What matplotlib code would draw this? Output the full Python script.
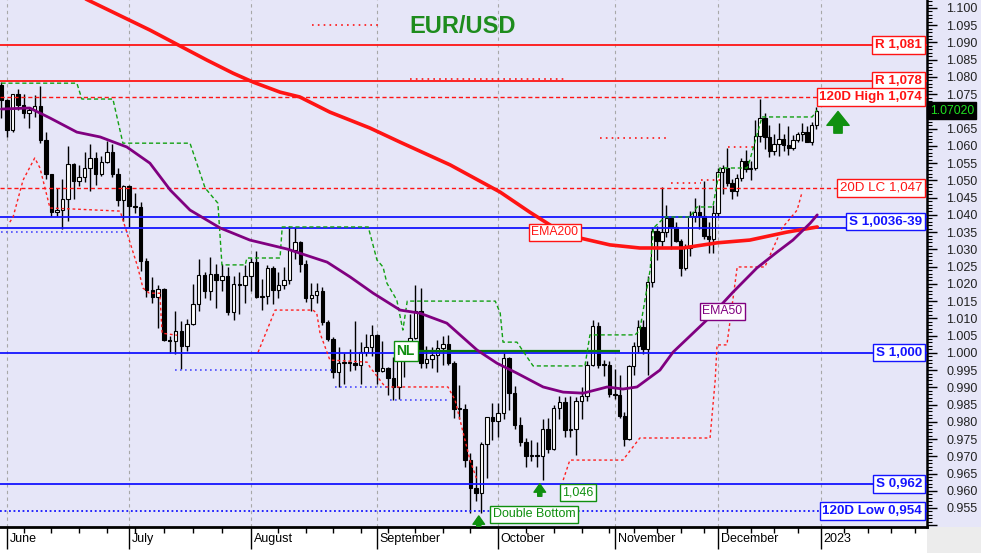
#!/usr/bin/env python3
"""EUR/USD daily candles, Jun-Dec 2022, with trend levels and moving averages."""

import numpy as np
import pandas as pd
import matplotlib
matplotlib.use('Agg')
import matplotlib.pyplot as plt
from matplotlib.patches import Rectangle
from matplotlib.ticker import MultipleLocator, FuncFormatter
from matplotlib.transforms import ScaledTranslation, blended_transform_factory

plt.rcParams['font.family'] = ['Liberation Sans', 'DejaVu Sans']

# ---- daily bars (31 May - 30 Dec 2022) ----
dates = pd.bdate_range('2022-05-31', '2022-12-30')

opens = [1.0776,
    1.0733, 1.0647, 1.0750, 1.0719, 1.0696, 1.0705, 1.0716, 1.0617, 1.0518, 1.0409, 1.0414,
    1.0446, 1.0549, 1.0497, 1.0510, 1.0535, 1.0566, 1.0519, 1.0554, 1.0583, 1.0519, 1.0442,
    1.0484, 1.0425, 1.0423, 1.0266, 1.0183, 1.0161, 1.0185, 1.0037, 1.0035, 1.0062, 1.0019,
    1.0083, 1.0143, 1.0226, 1.0180, 1.0230, 1.0212, 1.0222, 1.0118, 1.0201, 1.0197,
    1.0222, 1.0262, 1.0163, 1.0166, 1.0247, 1.0183, 1.0197, 1.0210, 1.0297, 1.0320, 1.0257,
    1.0160, 1.0168, 1.0180, 1.0088, 1.0039, 0.9944, 0.9970, 0.9970, 0.9971, 0.9965, 1.0001, 1.0017,
    1.0053, 0.9946, 0.9957, 0.9928, 0.9902, 1.0012, 0.9998, 1.0043, 1.0120, 0.9970, 0.9982,
    0.9995, 1.0015, 1.0026, 0.9970, 0.9838, 0.9838, 0.9689, 0.9607, 0.9593, 0.9737, 0.9815,
    0.9802, 0.9826, 0.9986, 0.9884, 0.9792, 0.9741, 0.9701, 0.9705, 0.9701, 0.9779, 0.9722,
    0.9840, 0.9856, 0.9775, 0.9780, 0.9861, 0.9876, 0.9965, 1.0077, 0.9966, 0.9965,
    0.9882, 0.9877, 0.9817, 0.9750, 0.9961, 1.0019, 1.0074, 1.0011, 1.0205, 1.0353, 1.0323,
    1.0351, 1.0391, 1.0364, 1.0325, 1.0245, 1.0305, 1.0398, 1.0408, 1.0398, 1.0339, 1.0330,
    1.0406, 1.0524, 1.0535, 1.0493, 1.0468, 1.0507, 1.0557, 1.0533, 1.0537, 1.0630, 1.0680,
    1.0627, 1.0585, 1.0606, 1.0619, 1.0604, 1.0593, 1.0617, 1.0635, 1.0639, 1.0611, 1.0660]

highs = [1.0786,
    1.0737, 1.0750, 1.0764, 1.0750, 1.0710, 1.0748, 1.0774, 1.0640, 1.0520, 1.0478, 1.0505,
    1.0601, 1.0550, 1.0545, 1.0583, 1.0606, 1.0582, 1.0570, 1.0615, 1.0606, 1.0537, 1.0488,
    1.0486, 1.0463, 1.0436, 1.0276, 1.0220, 1.0198, 1.0188, 1.0050, 1.0122, 1.0093, 1.0097,
    1.0200, 1.0272, 1.0233, 1.0278, 1.0257, 1.0258, 1.0248, 1.0224, 1.0234, 1.0254,
    1.0274, 1.0294, 1.0213, 1.0254, 1.0253, 1.0235, 1.0248, 1.0368, 1.0364, 1.0324, 1.0268,
    1.0203, 1.0202, 1.0190, 1.0095, 1.0045, 1.0018, 0.9999, 1.0012, 1.0091, 1.0030, 1.0055, 1.0080,
    1.0056, 1.0034, 0.9958, 0.9988, 1.0012, 1.0030, 1.0113, 1.0198, 1.0187, 1.0020, 1.0018,
    1.0036, 1.0050, 1.0052, 0.9976, 0.9906, 0.9852, 0.9709, 0.9671, 0.9740, 0.9815, 0.9854,
    0.9854, 0.9999, 0.9988, 0.9904, 0.9815, 0.9753, 0.9748, 0.9740, 0.9808, 0.9810, 0.9848,
    0.9875, 0.9873, 0.9875, 0.9873, 0.9902, 0.9976, 1.0094, 1.0090, 0.9978, 0.9977,
    0.9954, 0.9935, 0.9828, 0.9965, 1.0032, 1.0096, 1.0094, 1.0222, 1.0364, 1.0367, 1.0481,
    1.0430, 1.0395, 1.0380, 1.0330, 1.0315, 1.0410, 1.0448, 1.0428, 1.0497, 1.0379, 1.0429,
    1.0536, 1.0545, 1.0595, 1.0505, 1.0520, 1.0564, 1.0588, 1.0555, 1.0674, 1.0736, 1.0695,
    1.0660, 1.0636, 1.0666, 1.0636, 1.0658, 1.0632, 1.0640, 1.0667, 1.0659, 1.0670, 1.0714]

lows = [1.0681,
    1.0627, 1.0640, 1.0705, 1.0680, 1.0653, 1.0684, 1.0608, 1.0505, 1.0398, 1.0397, 1.0359,
    1.0381, 1.0445, 1.0484, 1.0494, 1.0470, 1.0486, 1.0514, 1.0550, 1.0509, 1.0427, 1.0383,
    1.0366, 1.0405, 1.0236, 1.0162, 1.0144, 1.0072, 1.0033, 0.9999, 0.9998, 0.9952, 1.0005,
    1.0080, 1.0120, 1.0160, 1.0152, 1.0130, 1.0180, 1.0110, 1.0095, 1.0112, 1.0145,
    1.0180, 1.0160, 1.0123, 1.0143, 1.0141, 1.0160, 1.0185, 1.0200, 1.0273, 1.0233, 1.0148,
    1.0122, 1.0145, 1.0080, 1.0034, 0.9926, 0.9901, 0.9910, 0.9946, 0.9950, 0.9910, 0.9990, 0.9990,
    0.9910, 0.9944, 0.9877, 0.9864, 0.9865, 0.9930, 0.9990, 1.0040, 0.9957, 0.9955, 0.9956,
    0.9945, 0.9966, 0.9965, 0.9810, 0.9807, 0.9670, 0.9536, 0.9570, 0.9535, 0.9636, 0.9748,
    0.9755, 0.9809, 0.9835, 0.9780, 0.9730, 0.9670, 0.9685, 0.9669, 0.9632, 0.9710, 0.9717,
    0.9807, 0.9755, 0.9755, 0.9705, 0.9808, 0.9860, 0.9962, 0.9955, 0.9932, 0.9873,
    0.9865, 0.9810, 0.9730, 0.9746, 0.9935, 1.0000, 0.9998, 0.9935, 1.0190, 1.0270, 1.0310,
    1.0335, 1.0300, 1.0320, 1.0223, 1.0240, 1.0280, 1.0380, 1.0360, 1.0330, 1.0290, 1.0290,
    1.0393, 1.0460, 1.0485, 1.0445, 1.0456, 1.0498, 1.0525, 1.0500, 1.0530, 1.0610, 1.0590,
    1.0568, 1.0575, 1.0570, 1.0585, 1.0573, 1.0588, 1.0610, 1.0615, 1.0610, 1.0602, 1.0650]

closes = [1.0733,
    1.0647, 1.0750, 1.0719, 1.0696, 1.0705, 1.0716, 1.0617, 1.0518, 1.0409, 1.0414, 1.0446,
    1.0549, 1.0497, 1.0510, 1.0535, 1.0566, 1.0519, 1.0554, 1.0583, 1.0519, 1.0442, 1.0484,
    1.0425, 1.0423, 1.0266, 1.0183, 1.0161, 1.0185, 1.0037, 1.0035, 1.0062, 1.0019, 1.0083,
    1.0143, 1.0226, 1.0180, 1.0230, 1.0212, 1.0222, 1.0118, 1.0201, 1.0197, 1.0222,
    1.0262, 1.0163, 1.0166, 1.0247, 1.0183, 1.0197, 1.0210, 1.0297, 1.0320, 1.0257, 1.0160,
    1.0168, 1.0180, 1.0088, 1.0039, 0.9944, 0.9970, 0.9970, 0.9971, 0.9965, 1.0001, 1.0017, 1.0053,
    0.9946, 0.9957, 0.9928, 0.9902, 1.0012, 0.9998, 1.0043, 1.0120, 0.9970, 0.9982, 0.9995,
    1.0015, 1.0026, 0.9970, 0.9838, 0.9838, 0.9689, 0.9607, 0.9593, 0.9737, 0.9815, 0.9802,
    0.9826, 0.9986, 0.9884, 0.9792, 0.9741, 0.9701, 0.9705, 0.9701, 0.9779, 0.9722, 0.9840,
    0.9856, 0.9775, 0.9780, 0.9861, 0.9876, 0.9965, 1.0077, 0.9966, 0.9965, 0.9882,
    0.9877, 0.9817, 0.9750, 0.9961, 1.0019, 1.0074, 1.0011, 1.0205, 1.0353, 1.0323, 1.0351,
    1.0391, 1.0364, 1.0325, 1.0245, 1.0305, 1.0398, 1.0408, 1.0398, 1.0339, 1.0330, 1.0406,
    1.0524, 1.0535, 1.0493, 1.0468, 1.0507, 1.0557, 1.0533, 1.0537, 1.0630, 1.0680, 1.0627,
    1.0585, 1.0606, 1.0619, 1.0604, 1.0593, 1.0617, 1.0635, 1.0639, 1.0611, 1.0660, 1.0702]

# ---- indicator lines (bar position, price) ----
ema50_pos = [0, 5.1, 8.75, 13.6, 17.8, 22.6, 26.6, 30.1, 33.5, 38.7, 43.8, 50.6, 57.9, 62.1,
             66.3, 71.2, 74.8, 79.7, 85.2, 88.8, 92.4, 97.1, 100.7, 104.3, 108.6, 111.7,
             114.7, 119.6, 122.4, 130.3, 135.2, 140.3, 144.6, 148.0, 151.7, 153.2]
ema50_val = [1.0707, 1.0710, 1.0681, 1.0640, 1.0626, 1.0597, 1.0550, 1.0472, 1.0414, 1.0362,
             1.0327, 1.0301, 1.0263, 1.0220, 1.0173, 1.0124, 1.0115, 1.0086, 1.0008, 0.9970,
             0.9941, 0.9901, 0.9886, 0.9883, 0.9901, 0.9895, 0.9901, 0.9950, 1.0002, 1.0104,
             1.0176, 1.0246, 1.0292, 1.0327, 1.0376, 1.0400]

ema200_pos = [0, 15.6, 26.6, 36.4, 40.9, 44.4, 49.3, 52.9, 58.4, 65.7, 71.2, 80.3, 89.4, 94.7,
              99.2, 103.7, 109.1, 115.3, 124.5, 131.8, 138.8, 146.7, 153.2]
ema200_val = [1.1151, 1.1023, 1.0936, 1.0849, 1.0811, 1.0785, 1.0756, 1.0742, 1.0698, 1.0652,
              1.0611, 1.0545, 1.0466, 1.0408, 1.0362, 1.0333, 1.0313, 1.0304, 1.0304, 1.0319,
              1.0327, 1.0350, 1.0365]

short_stop_pos = [0, 13.6, 14.5, 20.1, 21.9, 33.5, 36.1, 38.3, 39.0, 43.0, 43.3, 49.3, 49.7,
                  65.4, 67.0, 68.1, 68.8, 70.6, 71.7, 72.5, 88.5, 89.4, 89.9, 92.4, 95.3,
                  104.6, 105.5, 114.3, 115.3, 117.5, 118.2, 120.7, 126.0, 127.5, 130.9,
                  132.4, 138.2, 138.8, 141.4, 152.1, 153.2]
short_stop_val = [1.0782, 1.0782, 1.0736, 1.0736, 1.0608, 1.0608, 1.0478, 1.0434, 1.0255,
                  1.0255, 1.0275, 1.0275, 1.0365, 1.0365, 1.0269, 1.0249, 1.0202, 1.0153,
                  1.0066, 1.0150, 1.0150, 1.0115, 1.0031, 1.0031, 0.9962, 0.9962, 1.0052,
                  1.0052, 1.0066, 1.0240, 1.0362, 1.0394, 1.0394, 1.0423, 1.0423, 1.0536,
                  1.0536, 1.0559, 1.0684, 1.0684, 1.0704]

nan = np.nan
long_stop_pos = [1.5, 2.1, 3.9, 6.0, 6.95, 8.75, 21.4, 24.5, 25.4, 26.5, 28.3, 28.7, 31.3, nan,
                 45.3, 48.4, 55.3, 56.0, 56.6, 58.4, 65.2, 65.7, 68.5, 79.9, 81.2, 83.9, 85.2,
                 nan, 100.7, 101.9, 111.7, 115.3, 130.3, 131.4, 131.8, 133.9, 136.1, 142.0,
                 145.7, 148.9, 149.9]
long_stop_val = [1.0379, 1.0394, 1.0501, 1.0565, 1.0536, 1.0420, 1.0411, 1.0249, 1.0188,
                 1.0173, 1.0173, 1.0057, 1.0051, nan, 1.0002, 1.0124, 1.0124, 1.0115, 1.0057,
                 0.9979, 0.9973, 0.9959, 0.9901, 0.9901, 0.9863, 0.9689, 0.9631, nan, 0.9631,
                 0.9689, 0.9689, 0.9753, 0.9753, 0.9921, 1.0023, 1.0023, 1.0249, 1.0249,
                 1.0362, 1.0414, 1.0463]

# old channel levels (dotted)
old_low_start = [0, 30.9, 59.4, 69.4]
old_low_end = [23.0, 59.0, 69.4, 80.3]
old_low_val = [1.0350, 0.9950, 0.9901, 0.9863]
old_high_start = [55.1, 73.0, 107.3, 122.0, 128.4, 134.1]
old_high_end = [67.5, 101.0, 121.0, 128.4, 132.4, 139.9]
old_high_val = [1.0951, 1.0795, 1.0623, 1.0492, 1.0501, 1.0597]

# horizontal levels
level_val = [1.0893, 1.0788, 1.0742, 1.0478, 1.0394, 1.0362, 1.0000, 0.9620, 0.9541]
level_kind = ['R', 'R', 'hi', 'lc', 'S', 'S', 'S', 'S', 'lo']
tag_text = ['R 1,081', 'R 1,078', '120D High 1,074', '20D LC 1,047', 'S 1,0036-39',
            'S 1,000', 'S 0,962', '120D Low 0,954']
tag_val = [1.0893, 1.0788, 1.0742, 1.0478, 1.0380, 1.0000, 0.9620, 0.9541]
neckline = (70.3, 111.1, 1.0006)
last_price = 1.0702

month_labels = ['June', 'July', 'August', 'September', 'October', 'November', 'December', '2023']
month_px = [7, 129, 251, 377, 498, 615, 718, 821]

BG = '#e6e6f8'
RED = '#ff1414'
BLUE = '#1414ff'
GREEN = '#0f8f0f'
PURPLE = '#800080'

# bar index -> horizontal chart position
month_starts = [i for i in range(1, len(dates)) if dates[i].month != dates[i - 1].month]
anchor_idx = np.array([0] + month_starts + [len(dates)], dtype=float)
first_step = (month_px[1] - month_px[0]) / (month_starts[1] - month_starts[0])
anchor_x = np.array([month_px[0] - first_step] + month_px, dtype=float)


def to_x(pos):
    pos = np.asarray(pos, dtype=float)
    x = np.interp(pos, anchor_idx, anchor_x)
    slope = (anchor_x[-1] - anchor_x[-2]) / (anchor_idx[-1] - anchor_idx[-2])
    return np.where(pos > anchor_idx[-1], anchor_x[-1] + (pos - anchor_idx[-1]) * slope, x)


def main():
    fig = plt.figure(figsize=(9.81, 5.53), dpi=100)
    fig.patch.set_facecolor('white')
    fig.patches.append(Rectangle((927 / 981, 26 / 553), 54 / 981, 527 / 553,
                                 transform=fig.transFigure, fc=BG, ec='none', zorder=-5))
    fig.patches.append(Rectangle((927 / 981, 0), 54 / 981, 26 / 553,
                                 transform=fig.transFigure, fc='#ececec', ec='none', zorder=-5))
    ax = fig.add_axes([0, 26 / 553, 927 / 981, 527 / 553])
    ax.set_facecolor(BG)
    ax.set_xlim(0, 927)
    ax.set_ylim(0.94949, 1.10232)

    # candles
    o, h, l, c = map(np.array, (opens, highs, lows, closes))
    x = to_x(np.arange(len(dates)))
    up = c >= o
    bottom = np.minimum(o, c)
    height = np.maximum(np.abs(c - o), 0.0003)
    ax.vlines(x, l, h, color='black', lw=1, zorder=3)
    ax.bar(x[up], height[up], bottom=bottom[up], width=3.4, color='white',
           edgecolor='black', lw=0.8, zorder=4)
    ax.bar(x[~up], height[~up], bottom=bottom[~up], width=3.4, color='black',
           edgecolor='black', lw=0.8, zorder=4)

    # horizontal levels
    trans_r = blended_transform_factory(ax.transAxes, ax.transData)
    for v, kind in zip(level_val, level_kind):
        if kind == 'R':
            ax.axhline(v, color=RED, lw=1.3, zorder=5)
        elif kind in ('hi', 'lc'):
            ax.axhline(v, color=RED, lw=1, ls=(0, (3, 2)), zorder=5)
        elif kind == 'S':
            ax.axhline(v, color=BLUE, lw=1.3, zorder=5)
        else:
            ax.axhline(v, color=BLUE, lw=1.3, ls=(0, (1, 1.5)), zorder=5)

    for s, e, v in zip(old_low_start, old_low_end, old_low_val):
        ax.hlines(v, to_x(s), to_x(e), color='#4a4aff', lw=1.2, ls=(0, (1, 2)), zorder=5)
    for s, e, v in zip(old_high_start, old_high_end, old_high_val):
        ax.hlines(v, to_x(s), to_x(e), color=RED, lw=1.2, ls=(0, (1, 2.5)), zorder=5)

    ax.hlines(neckline[2], to_x(neckline[0]), to_x(neckline[1]), color='#0a7a0a', lw=1.6, zorder=5)

    # trailing stops
    ax.plot(to_x(short_stop_pos), short_stop_val, color='#12a012', lw=1,
            ls=(0, (3, 2)), zorder=5)
    ax.plot(to_x(long_stop_pos), long_stop_val, color='#ff2020', lw=1,
            ls=(0, (2, 2)), zorder=5)

    # moving averages
    ax.plot(to_x(ema200_pos), ema200_val, color=RED, lw=2.6, zorder=6, solid_capstyle='round')
    ax.plot(to_x(ema50_pos), ema50_val, color=PURPLE, lw=2, zorder=6, solid_capstyle='round')

    # right-hand level tags
    for txt, v in zip(tag_text, tag_val):
        col = RED if txt[0] in 'R2' or 'High' in txt else BLUE
        weight = 'normal' if 'LC' in txt else 'bold'
        ax.text(0.9946, v, txt, transform=trans_r, ha='right', va='center', fontsize=9.6,
                color=col, fontweight=weight, zorder=9,
                bbox=dict(boxstyle='square,pad=0.2', fc='white', ec=col, lw=1))

    # in-chart notes
    box = dict(boxstyle='square,pad=0.2', fc='white', lw=1)
    ax.text(to_x(72.2), 1.0005, 'NL', ha='center', va='center', fontsize=10, fontweight='bold',
            color=GREEN, zorder=9, bbox=dict(box, ec=GREEN))
    ax.text(to_x(99.2), 1.0350, 'EMA200', ha='center', va='center', fontsize=8.8,
            color=RED, zorder=9, bbox=dict(box, ec=RED))
    ax.text(to_x(132.9), 1.0121, 'EMA50', ha='center', va='center', fontsize=8.8,
            color=PURPLE, zorder=9, bbox=dict(box, ec=PURPLE))
    ax.text(to_x(103.4), 0.9596, '1,046', ha='center', va='center', fontsize=9,
            color=GREEN, zorder=9, bbox=dict(box, ec=GREEN))
    ax.text(to_x(95.5), 0.9532, 'Double Bottom', ha='center', va='center', fontsize=9,
            color=GREEN, zorder=9, bbox=dict(box, ec=GREEN))

    # arrows
    small = dict(arrowstyle='simple,head_length=1.0,head_width=1.4,tail_width=0.5',
                 color=GREEN, mutation_scale=6, shrinkA=0, shrinkB=0)
    ax.annotate('', xy=(to_x(85.5), 0.9527), xytext=(to_x(85.5), 0.9497),
                arrowprops=small, zorder=9)
    ax.annotate('', xy=(to_x(96.5), 0.9620), xytext=(to_x(96.5), 0.9584),
                arrowprops=small, zorder=9)
    big = dict(arrowstyle='simple,head_length=1.0,head_width=1.6,tail_width=0.6',
               color='#109010', mutation_scale=10, shrinkA=0, shrinkB=0)
    ax.annotate('', xy=(0.904, 1.0700), xytext=(0.904, 1.0637), xycoords=trans_r,
                textcoords=trans_r, arrowprops=big, zorder=9)

    # title and last price
    ax.text(0.4995, 0.949, 'EUR/USD', transform=ax.transAxes, ha='center', va='center',
            fontsize=17, fontweight='bold', color='#1e8c1e')
    ax.text(1.003, last_price, f'{last_price:.5f}', transform=trans_r, ha='left', va='center',
            fontsize=8.8, color='#20e020', zorder=10, clip_on=False,
            bbox=dict(boxstyle='square,pad=0.2', fc='black', ec='black'))

    # axes styling
    for side in ('top', 'left'):
        ax.spines[side].set_visible(False)
    ax.spines['right'].set_linewidth(1.8)
    ax.spines['bottom'].set_linewidth(2)

    ax.yaxis.tick_right()
    ax.yaxis.set_major_locator(MultipleLocator(0.005))
    ax.yaxis.set_minor_locator(MultipleLocator(0.001))
    ax.yaxis.set_major_formatter(FuncFormatter(
        lambda v, p: '' if (abs(v - 1.070) < 1e-6 or v < 0.952) else f'{v:.3f}'))
    ax.tick_params(axis='y', which='major', length=7, width=1, pad=7, labelsize=9,
                   labelcolor='#222222')
    ax.tick_params(axis='y', which='minor', length=3.5, width=0.8)

    mondays = [i for i, d in enumerate(dates) if d.weekday() == 0 and i > 0]
    mondays += [len(dates) + 5 * k for k in range(1, 5)]
    ax.set_xticks(month_px)
    ax.set_xticklabels(month_labels, ha='left')
    ax.set_xticks(to_x(mondays), minor=True)
    ax.tick_params(axis='x', which='major', length=16, width=1, pad=-12, labelsize=9)
    ax.tick_params(axis='x', which='minor', length=4, width=1)
    shift = ScaledTranslation(2 / 72, 0, fig.dpi_scale_trans)
    for lbl in ax.get_xticklabels():
        lbl.set_transform(lbl.get_transform() + shift)

    ax.grid(axis='x', which='major', color='#a8a8a8', ls=(0, (3, 3)), lw=0.8)
    ax.set_axisbelow(True)

    fig.savefig('out.png', dpi=100, facecolor=fig.get_facecolor())


if __name__ == "__main__":
    main()
